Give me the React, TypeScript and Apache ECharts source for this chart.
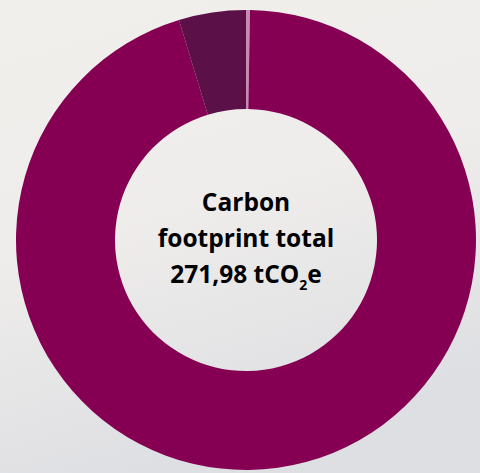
import React, { useEffect, useRef } from "react";
import * as echarts from "echarts";

const categories = ["Scope A", "Scope B", "Scope C"];
const values = [0.75, 258.43, 12.8];
const colors = ["#C78BB3", "#850052", "#5C1048"];
const centerLines = ["Carbon", "footprint total"];
const totalText = "271,98 tCO";

export default function App() {
  const ref = useRef<HTMLDivElement>(null);
  useEffect(() => {
    document.body.style.margin = "0";
    const chart = echarts.init(ref.current!, undefined, { renderer: "svg" });
    chart.setOption({
      animation: false,
      backgroundColor: new echarts.graphic.LinearGradient(0, 0, 0.3, 1, [
        { offset: 0, color: "#F1EFEC" },
        { offset: 0.5, color: "#EFEDEB" },
        { offset: 1, color: "#DEDFE3" },
      ]),
      series: [
        {
          type: "pie",
          center: [246, 240],
          radius: [131, 230],
          startAngle: 90,
          clockwise: true,
          label: { show: false },
          labelLine: { show: false },
          emphasis: { disabled: true },
          itemStyle: { borderWidth: 0 },
          data: categories.map((c, i) => ({
            name: c,
            value: values[i],
            itemStyle: { color: colors[i] },
          })),
        },
      ],
      graphic: [
        {
          type: "text",
          style: {
            x: 246,
            y: 237,
            text:
              "{a|" + centerLines[0] + "}\n{a|" + centerLines[1] + "}\n{a|" + totalText + "}{s|2}{a|e}",
            align: "center",
            verticalAlign: "middle",
            rich: {
              a: {
                fontFamily: "Open Sans",
                fontWeight: 700,
                fontSize: 24.5,
                lineHeight: 36,
                color: "#5B1049",
              },
              s: {
                fontFamily: "Open Sans",
                fontWeight: 700,
                fontSize: 14,
                lineHeight: 36,
                color: "#5B1049",
                padding: [22, 0, 0, 0],
              },
            },
          },
        },
      ],
    });
    return () => chart.dispose();
  }, []);
  return (
    <div
      ref={ref}
      style={{ position: "fixed", left: 0, top: 0, width: 480, height: 473 }}
    />
  );
}
